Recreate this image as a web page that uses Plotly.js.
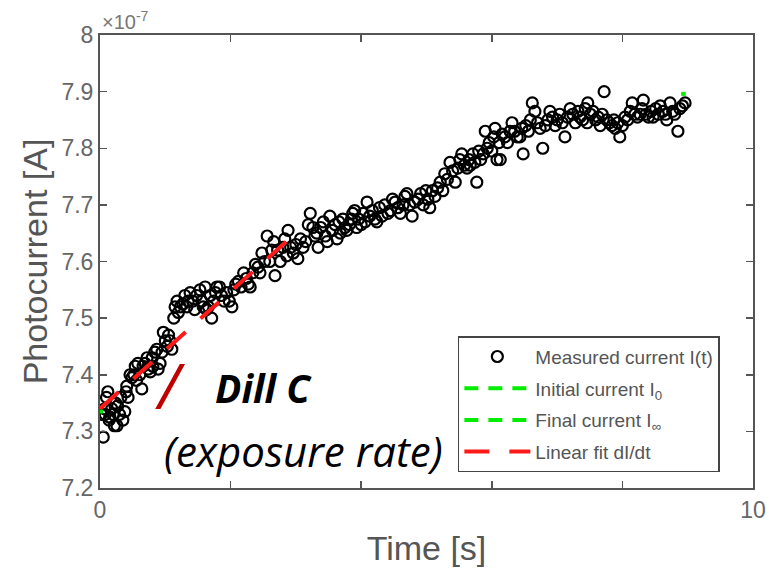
<!DOCTYPE html>
<html>
<head>
<meta charset="utf-8">
<script src="https://cdn.plot.ly/plotly-3.0.1.min.js"></script>
<style>html,body{margin:0;padding:0;background:#fff;}#chart{width:769px;height:573px;}</style>
</head>
<body>
<div id="chart"></div>
<script>
// Time [s]
const time_s = [0.02,0.05,0.07,0.08,0.10,0.12,0.14,0.15,0.18,0.20,0.22,0.24,0.26,0.27,0.30,0.32,0.35,0.38,0.40,0.41,0.43,0.46,0.49,0.52,0.54,0.56,0.58,0.61,0.64,0.66,0.69,0.72,0.74,0.77,0.80,0.81,0.84,0.87,0.89,0.92,0.95,0.97,1.00,1.03,1.05,1.07,1.10,1.13,1.15,1.18,1.20,1.23,1.27,1.30,1.33,1.35,1.38,1.42,1.45,1.48,1.53,1.56,1.58,1.61,1.63,1.66,1.69,1.71,1.74,1.77,1.79,1.83,1.86,1.90,1.94,1.98,2.02,2.05,2.08,2.12,2.16,2.20,2.24,2.27,2.30,2.34,2.38,2.42,2.45,2.48,2.52,2.56,2.60,2.63,2.66,2.68,2.72,2.76,2.80,2.83,2.86,2.88,2.92,2.96,3.00,3.03,3.07,3.11,3.15,3.19,3.22,3.26,3.29,3.32,3.34,3.38,3.42,3.45,3.48,3.52,3.56,3.60,3.63,3.66,3.68,3.72,3.75,3.78,3.82,3.85,3.87,3.90,3.93,3.96,4.00,4.03,4.06,4.09,4.13,4.17,4.21,4.24,4.28,4.32,4.36,4.41,4.45,4.48,4.52,4.56,4.60,4.64,4.67,4.70,4.74,4.78,4.82,4.87,4.91,4.95,4.99,5.02,5.05,5.09,5.13,5.17,5.21,5.25,5.28,5.32,5.36,5.40,5.44,5.48,5.51,5.54,5.58,5.62,5.65,5.67,5.71,5.74,5.77,5.80,5.83,5.87,5.90,5.93,5.96,6.00,6.03,6.05,6.08,6.11,6.13,6.16,6.20,6.24,6.28,6.31,6.35,6.39,6.43,6.46,6.48,6.52,6.56,6.59,6.62,6.66,6.70,6.74,6.78,6.82,6.86,6.89,6.93,6.97,7.00,7.04,7.08,7.12,7.16,7.20,7.24,7.28,7.32,7.35,7.39,7.43,7.46,7.47,7.51,7.55,7.59,7.63,7.66,7.69,7.72,7.76,7.80,7.84,7.87,7.89,7.93,7.96,8.00,8.04,8.08,8.12,8.15,8.19,8.23,8.27,8.30,8.32,8.36,8.40,8.44,8.47,8.51,8.55,8.58,8.62,8.66,8.68,8.73,8.77,8.80,8.85,8.88,8.92,8.96];
// Measured photocurrent, in units of 1e-7 A
const current_e7 = [7.33,7.29,7.34,7.33,7.36,7.37,7.32,7.325,7.34,7.33,7.31,7.35,7.31,7.345,7.33,7.36,7.32,7.335,7.37,7.38,7.36,7.40,7.395,7.40,7.415,7.39,7.42,7.40,7.375,7.415,7.42,7.43,7.41,7.405,7.43,7.415,7.44,7.445,7.41,7.42,7.44,7.475,7.46,7.45,7.47,7.46,7.445,7.50,7.52,7.53,7.51,7.52,7.525,7.54,7.52,7.53,7.545,7.53,7.515,7.54,7.55,7.53,7.52,7.555,7.515,7.52,7.54,7.50,7.53,7.545,7.555,7.555,7.54,7.53,7.545,7.53,7.52,7.55,7.56,7.565,7.555,7.58,7.57,7.56,7.555,7.58,7.595,7.59,7.58,7.615,7.60,7.645,7.60,7.62,7.635,7.575,7.62,7.60,7.625,7.64,7.61,7.655,7.625,7.615,7.63,7.605,7.64,7.625,7.635,7.665,7.685,7.66,7.645,7.65,7.625,7.66,7.67,7.645,7.635,7.68,7.655,7.665,7.64,7.67,7.65,7.675,7.66,7.655,7.665,7.675,7.685,7.69,7.66,7.675,7.665,7.685,7.67,7.705,7.68,7.69,7.675,7.67,7.695,7.68,7.70,7.685,7.69,7.71,7.705,7.695,7.685,7.70,7.715,7.72,7.70,7.68,7.705,7.71,7.72,7.70,7.725,7.71,7.695,7.725,7.715,7.73,7.74,7.725,7.755,7.745,7.775,7.76,7.74,7.765,7.78,7.79,7.77,7.765,7.78,7.77,7.79,7.775,7.74,7.795,7.78,7.79,7.83,7.80,7.81,7.795,7.82,7.835,7.78,7.81,7.78,7.825,7.82,7.81,7.83,7.845,7.83,7.82,7.82,7.835,7.79,7.84,7.83,7.85,7.88,7.865,7.845,7.835,7.80,7.84,7.85,7.865,7.855,7.84,7.85,7.86,7.845,7.82,7.855,7.87,7.86,7.845,7.865,7.855,7.85,7.87,7.845,7.88,7.86,7.865,7.85,7.855,7.84,7.86,7.90,7.85,7.845,7.84,7.85,7.835,7.845,7.82,7.84,7.855,7.85,7.865,7.88,7.86,7.855,7.86,7.87,7.885,7.86,7.855,7.865,7.855,7.87,7.86,7.875,7.865,7.86,7.85,7.88,7.865,7.86,7.83,7.87,7.875,7.88];

// Linear fit dI/dt (endpoints)
const fit_t = [0.0, 2.95];
const fit_i = [7.34, 7.645];
// Initial current I0 (short segment)
const init_t = [0.0, 0.05];
const init_i = [7.335, 7.335];
// Final current I_inf (short segment)
const final_t = [8.90, 8.97];
const final_i = [7.896, 7.896];

const xTicks = [0, 2, 4, 6, 8, 10];
const xTickText = ['0', '', '', '', '', '10'];
const yTicks = [7.2, 7.3, 7.4, 7.5, 7.6, 7.7, 7.8, 7.9, 8];
const yTickText = ['7.2', '7.3', '7.4', '7.5', '7.6', '7.7', '7.8', '7.9', '8'];

const traces = [
  {x: time_s, y: current_e7, type: 'scatter', mode: 'markers', name: 'Measured current I(t)', legendgroup: 'a',
   marker: {symbol: 'circle-open', size: 11, color: '#000', line: {width: 2.2, color: '#000'}}},
  {x: init_t, y: init_i, type: 'scatter', mode: 'lines', name: 'Initial current I<sub>0</sub>', legendgroup: 'b',
   line: {color: '#00ee00', width: 4, dash: '14px,10px'}},
  {x: final_t, y: final_i, type: 'scatter', mode: 'lines', name: 'Final current I<sub>\u221e</sub>', legendgroup: 'c',
   line: {color: '#00ee00', width: 4, dash: '14px,10px'}},
  {x: fit_t, y: fit_i, type: 'scatter', mode: 'lines', name: 'Linear fit dI/dt', legendgroup: 'd',
   line: {color: '#ff1a1a', width: 4, dash: '25px,20px'}}
];

const axisCol = '#555';
const layout = {
  width: 769, height: 573,
  margin: {l: 100, r: 16, t: 35, b: 85},
  paper_bgcolor: '#fff', plot_bgcolor: '#fff',
  font: {family: 'Liberation Sans, Arial, sans-serif', color: '#555'},
  showlegend: true,
  xaxis: {
    range: [0, 10], tickvals: xTicks, ticktext: xTickText,
    ticks: 'inside', ticklen: 7, tickwidth: 1.5, tickcolor: axisCol,
    showline: true, linecolor: axisCol, linewidth: 2, mirror: 'ticks',
    showgrid: false, zeroline: false,
    tickfont: {size: 23, color: '#666'},
    title: {text: 'Time [s]', font: {size: 34, color: '#555'}, standoff: 15}
  },
  yaxis: {
    range: [7.2, 8], tickvals: yTicks, ticktext: yTickText,
    ticks: 'inside', ticklen: 7, tickwidth: 1.5, tickcolor: axisCol,
    showline: true, linecolor: axisCol, linewidth: 2, mirror: 'ticks',
    showgrid: false, zeroline: false,
    tickfont: {size: 23, color: '#666'},
    title: {text: 'Photocurrent [A]', font: {size: 34, color: '#555'}, standoff: 4}
  },
  legend: {
    x: 0.548, y: 0.035, xanchor: 'left', yanchor: 'bottom',
    bgcolor: '#fff', bordercolor: '#444', borderwidth: 1.5,
    font: {size: 19, color: '#555'}, tracegroupgap: 4, itemwidth: 66
  },
  annotations: [
    {xref: 'paper', yref: 'paper', x: 0, y: 1, xanchor: 'left', yanchor: 'bottom', yshift: 0,
     text: '\u00d710<sup>-7</sup>', showarrow: false, font: {size: 20, color: '#777'}},
    {xref: 'paper', yref: 'paper', x: 0.107, y: 0.228, xanchor: 'center', yanchor: 'middle',
     text: '<i>/</i>', showarrow: false, font: {family: 'Open Sans, sans-serif', size: 62, color: '#c00000'}},
    {xref: 'paper', yref: 'paper', x: 0.25, y: 0.221, xanchor: 'center', yanchor: 'middle',
     text: '<b><i>Dill C</i></b>', showarrow: false, font: {family: 'Open Sans, sans-serif', size: 39, color: '#000'}},
    {xref: 'paper', yref: 'paper', x: 0.311, y: 0.082, xanchor: 'center', yanchor: 'middle',
     text: '<i>(exposure rate)</i>', showarrow: false, font: {family: 'Open Sans, sans-serif', size: 42, color: '#000'}}
  ]
};

Plotly.newPlot('chart', traces, layout, {displayModeBar: false, staticPlot: true});
</script>
</body>
</html>
